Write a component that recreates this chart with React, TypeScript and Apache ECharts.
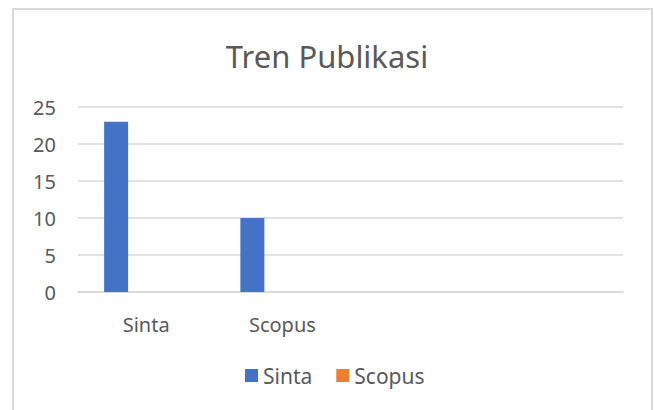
import React, { useEffect, useRef } from "react";
import * as echarts from "echarts";

const categories = ["Sinta", "Scopus", "", ""];
const sintaValues = [23, 10, null, null];
const scopusValues = [0, 0, null, null];
const yTicks = { min: 0, max: 25, interval: 5 };

const FONT = "'Noto Sans', sans-serif";
const TEXT = "#595959";
const GRID = "#D9D9D9";

export default function App() {
  const ref = useRef<HTMLDivElement>(null);
  useEffect(() => {
    if (!ref.current) return;
    const chart = echarts.init(ref.current, undefined, { renderer: "svg" });
    chart.setOption({
      animation: false,
      backgroundColor: "#ffffff",
      textStyle: { fontFamily: FONT },
      title: {
        text: "Tren Publikasi",
        left: "center",
        top: 35,
        textStyle: { fontFamily: FONT, fontSize: 31, fontWeight: "normal", color: TEXT },
      },
      graphic: [
        {
          type: "rect",
          shape: { x: 13, y: 9, width: 639, height: 420 },
          style: { fill: "none", stroke: GRID, lineWidth: 2 },
          silent: true,
          z: -1,
        },
      ],
      legend: {
        bottom: 19,
        left: 240,
        icon: "rect",
        itemWidth: 13,
        itemHeight: 13,
        itemGap: 24,
        textStyle: { fontFamily: FONT, fontSize: 21, color: TEXT },
        data: ["Sinta", "Scopus"],
      },
      grid: { left: 78, right: 31, top: 107, bottom: 118, containLabel: false },
      xAxis: {
        type: "category",
        data: categories,
        axisLine: { show: true, lineStyle: { color: GRID, width: 1.5 } },
        axisTick: { show: false },
        axisLabel: { fontFamily: FONT, fontSize: 20, color: TEXT, margin: 22, interval: 0 },
      },
      yAxis: {
        type: "value",
        min: yTicks.min,
        max: yTicks.max,
        interval: yTicks.interval,
        axisLine: { show: false },
        axisTick: { show: false },
        splitLine: { lineStyle: { color: GRID, width: 1.5 } },
        axisLabel: { fontFamily: FONT, fontSize: 20, color: TEXT, margin: 22 },
      },
      series: [
        {
          name: "Sinta",
          type: "bar",
          data: sintaValues,
          barWidth: 24,
          barGap: "150%",
          itemStyle: { color: "#4472C4" },
        },
        {
          name: "Scopus",
          type: "bar",
          data: scopusValues,
          barWidth: 24,
          itemStyle: { color: "#ED7D31" },
        },
      ],
    });
    return () => chart.dispose();
  }, []);
  return (
    <div
      ref={ref}
      style={{ position: "fixed", left: 0, top: 0, width: 654, height: 410 }}
    />
  );
}
